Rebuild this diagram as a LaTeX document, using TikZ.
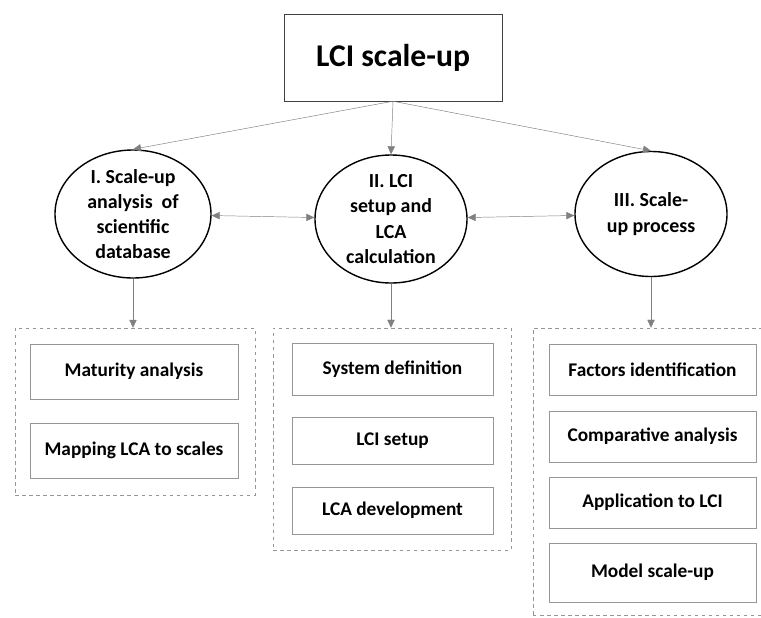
\documentclass[tikz,border=0pt]{standalone}
\usepackage{fontspec}
\setmainfont{Carlito}
\usepackage{tikz}
\usetikzlibrary{arrows.meta, shapes.geometric, positioning}
\definecolor{LineGray}{RGB}{128,128,128}
\definecolor{BoxGray}{RGB}{150,150,150}

\begin{document}
\begin{tikzpicture}[x=0.03cm,y=-0.03cm,
	title/.style={draw=black!75,thin,minimum width=6.54cm,minimum height=2.61cm,font=\fontsize{27}{32}\selectfont\bfseries},
	stage/.style={draw=black,line width=1.2pt,ellipse,inner sep=0pt,align=center,font=\fontsize{17}{21.5}\selectfont\bfseries},
	group/.style={draw=BoxGray,dashed,thin,inner sep=0pt},
	task/.style={draw=BoxGray,thin,inner sep=0pt,font=\fontsize{16.5}{19}\selectfont\bfseries},
	arr/.style={draw=LineGray,thin,-{Triangle[length=2.4mm,width=2.2mm]}},
	darr/.style={draw=LineGray,thin,{Triangle[length=2.4mm,width=2.2mm]}-{Triangle[length=2.4mm,width=2.2mm]}}]
\clip (0,0) rectangle (761,617);
\node[title] (top) at (393,57.5) {LCI scale-up};
% the three stages
\node[stage,minimum width=4.68cm,minimum height=3.84cm] (s1) at (133,214) {I. Scale-up\\analysis~ of\\scientific\\database};
\node[stage,minimum width=4.56cm,minimum height=3.84cm] (s2) at (391,219) {II. LCI\\setup and\\LCA\\calculation};
\node[stage,minimum width=4.56cm,minimum height=3.75cm] (s3) at (651,214) {III. Scale-\\up process};
% dashed groups
\node[group,minimum width=7.2cm,minimum height=5.01cm] (g1) at (135,411.5) {};
\node[group,minimum width=7.14cm,minimum height=6.66cm] (g2) at (392,439) {};
\node[group,minimum width=8cm,minimum height=8.61cm] (g3) at (666.3,471.5) {};
% tasks
\node[task,minimum width=6.24cm,minimum height=1.65cm] (t11) at (134,371.5) {Maturity analysis};
\node[task,minimum width=6.24cm,minimum height=1.65cm] (t12) at (134,450.5) {Mapping LCA to scales};
\node[task,minimum width=6.03cm,minimum height=1.56cm] (t21) at (392.5,369) {System definition};
\node[task,minimum width=6.03cm,minimum height=1.41cm] (t22) at (392.5,440.5) {LCI setup};
\node[task,minimum width=6.03cm,minimum height=1.41cm] (t23) at (392.5,510.5) {LCA development};
\node[task,minimum width=6.21cm,minimum height=1.53cm] (t31) at (652.5,369.5) {Factors identification};
\node[task,minimum width=6.21cm,minimum height=1.53cm] (t32) at (652.5,436.5) {Comparative analysis};
\node[task,minimum width=6.21cm,minimum height=1.53cm] (t33) at (652.5,502.5) {Application to LCI};
\node[task,minimum width=6.21cm,minimum height=1.77cm] (t34) at (652.5,572.5) {Model scale-up};
% connectors
\draw[arr] (top.south) -- (s1.north);
\draw[arr] (top.south) -- (s2.north);
\draw[arr] (top.south) -- (s3.north);
\draw[darr] (s1) -- (s2);
\draw[darr] (s2) -- (s3);
\draw[arr] (s1.south) -- (s1.south |- g1.north);
\draw[arr] (s2.south) -- (s2.south |- g2.north);
\draw[arr] (s3.south) -- (s3.south |- g3.north);
\end{tikzpicture}
\end{document}
